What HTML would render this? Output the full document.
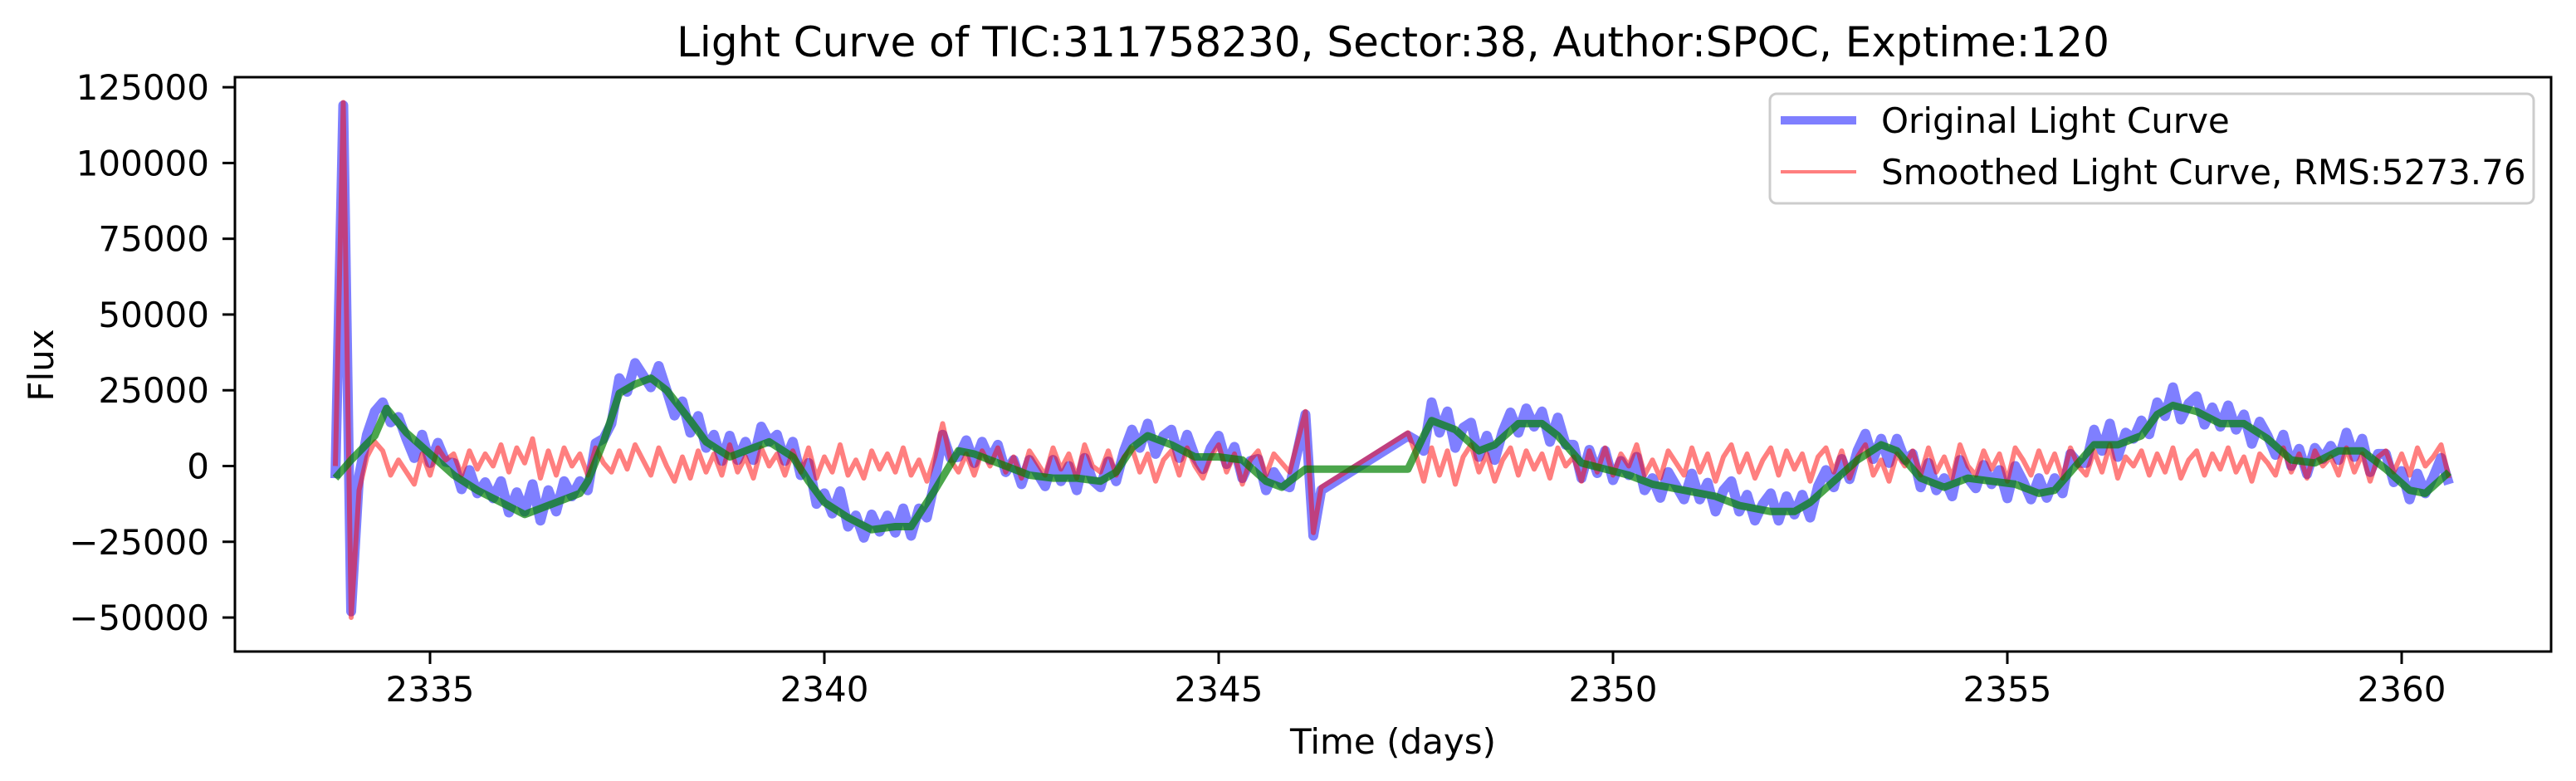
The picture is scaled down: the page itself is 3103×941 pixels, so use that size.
<!DOCTYPE html>
<html><head><meta charset="utf-8"><style>
body{margin:0;background:#fff}
svg{display:block;font-family:"DejaVu Sans","Liberation Sans",sans-serif}
</style></head><body>
<svg id="chart" width="3103" height="941" viewBox="0 0 3103 941" xmlns="http://www.w3.org/2000/svg">
<rect width="3103" height="941" fill="#fff"/>
<text x="1678" y="68" font-size="50" text-anchor="middle">Light Curve of TIC:311758230, Sector:38, Author:SPOC, Exptime:120</text>
<g id="plot"></g>
<g id="axes"></g>
<text x="1678" y="908" font-size="42" text-anchor="middle">Time (days)</text>
<text transform="translate(64,440) rotate(-90)" font-size="42" text-anchor="middle">Flux</text>
<g>
<rect x="2132" y="113" width="920" height="132" rx="8" fill="#fff" fill-opacity="0.8" stroke="#cccccc" stroke-width="3"/>
<line x1="2145" y1="145" x2="2236" y2="145" stroke="rgba(0,0,255,0.5)" stroke-width="10"/>
<text x="2266" y="160" font-size="42">Original Light Curve</text>
<line x1="2145" y1="207" x2="2236" y2="207" stroke="rgba(255,0,0,0.5)" stroke-width="4"/>
<text x="2266" y="222" font-size="42">Smoothed Light Curve, RMS:5273.76</text>
</g>
</svg>
<script>
const xTicks=[2335,2340,2345,2350,2355,2360];
const yTicks=[-50000,-25000,0,25000,50000,75000,100000,125000];
const startTime=2333.8;
const timeStep=0.1;
const residual=[0,120,-50,-8,3,8,5,-3,2,-2,
-6,4,-3,6,2,4,-3,5,-1,4,
0,7,-2,6,1,9,-4,5,-3,6,
0,4,-3,6,1,-2,5,-1,7,2,
-3,6,0,-5,3,-4,5,-2,4,-3,
7,-2,3,-4,6,0,4,-3,5,-2,
6,-4,3,-2,7,-3,2,-4,5,-1,
4,-2,6,-3,2,-5,3,14,2,-2,
4,-3,5,0,6,-2,3,-4,5,1,
-3,6,-1,4,-4,7,0,-2,5,-3,
3,6,-2,4,-5,2,5,-3,6,0,
-4,3,7,-2,4,-6,2,5,-3,4,
1,-2,8,18,-22,-7,null,null,null,null,
null,null,null,null,null,null,11,4,-5,6,
-3,5,-6,3,7,-2,4,-5,2,6,
-3,5,-1,4,-4,6,0,3,-5,5,
-2,6,-3,4,0,7,-3,2,-4,5,
1,-3,6,-2,4,-5,3,7,-2,4,
-4,2,6,-3,5,-1,4,-5,3,6,
-2,5,-4,3,7,-3,2,-5,4,0,
5,-3,6,-2,3,-4,7,0,-3,5,
-1,4,-5,6,2,-3,5,-2,4,-4,
6,0,-3,5,-2,7,-4,3,0,5,
-3,4,-2,6,-4,2,5,-3,4,-1,
6,-2,3,-5,4,1,-3,6,-2,4,
-4,5,0,3,-3,6,-2,4,-5,3,
5,-2,4,-3,6,0,3,7,-4];
const trendT=[2333.8,2334.0,2334.3,2334.45,2334.7,2335.0,2335.3,2335.6,2335.9,2336.2,2336.5,2336.9,2337.0,2337.2,2337.4,2337.6,2337.8,2338.0,2338.3,2338.5,2338.8,2339.0,2339.3,2339.6,2339.8,2340.0,2340.3,2340.6,2340.9,2341.1,2341.4,2341.7,2341.9,2342.3,2342.6,2342.9,2343.2,2343.5,2343.7,2343.9,2344.1,2344.4,2344.7,2345.0,2345.3,2345.6,2345.8,2346.0,2346.1,2346.4,2346.6,2346.8,2347.4,2347.6,2347.7,2348.0,2348.3,2348.5,2348.8,2349.1,2349.3,2349.6,2349.9,2350.2,2350.5,2350.9,2351.3,2351.6,2352.0,2352.3,2352.5,2352.8,2353.1,2353.4,2353.6,2353.9,2354.2,2354.5,2354.8,2355.1,2355.4,2355.6,2355.9,2356.1,2356.4,2356.7,2356.9,2357.1,2357.4,2357.7,2358.0,2358.3,2358.6,2358.9,2359.2,2359.5,2359.8,2360.1,2360.3,2360.6];
const trendV=[-4,2,10,19,11,4,-3,-8,-12,-16,-13,-9,-5,8,24,27,29,25,15,8,3,5,8,3,-5,-12,-17,-21,-20,-20,-8,5,4,0,-3,-4,-4,-5,-2,6,10,7,3,3,2,-5,-7,-3,-1,-1,-1,-1,-1,10,15,12,5,7,14,14,10,1,-1,-3,-6,-8,-10,-13,-15,-15,-12,-5,2,7,5,-4,-7,-4,-5,-6,-9,-8,1,7,7,10,17,20,18,14,14,9,2,1,5,5,-1,-8,-9,-2];

const NS='http://www.w3.org/2000/svg';
const X0=283,X1=3073,Y0=93,Y1=785;
function xs(t){return 518+(t-2335)*95;}
function ys(v){return 561.5-v*3.651;}
function trendAt(t){
  if(t<=trendT[0])return trendV[0];
  for(let i=1;i<trendT.length;i++){if(t<=trendT[i]){const f=(t-trendT[i-1])/(trendT[i]-trendT[i-1]);return trendV[i-1]+f*(trendV[i]-trendV[i-1]);}}
  return trendV[trendV.length-1];
}
const plot=document.getElementById('plot');
const axes=document.getElementById('axes');
function mk(tag,attrs,parent){const e=document.createElementNS(NS,tag);for(const k in attrs)e.setAttribute(k,attrs[k]);parent.appendChild(e);return e;}
let bp=[],rp=[];
residual.forEach((r,i)=>{if(r===null)return;const t=startTime+i*timeStep;
 bp.push(xs(t).toFixed(1)+','+ys(trendAt(t)+r).toFixed(1));
 rp.push(xs(t).toFixed(1)+','+ys(r).toFixed(1));});
const gp=trendT.map((t,i)=>xs(t).toFixed(1)+','+ys(trendV[i]).toFixed(1));
const blue=mk('polyline',{points:bp.join(' '),fill:'none',stroke:'#0000ff','stroke-opacity':0.5,'stroke-width':12,'stroke-linejoin':'round'},plot);


const red=mk('polyline',{points:rp.join(' '),fill:'none',stroke:'#ff0000','stroke-opacity':0.5,'stroke-width':6,'stroke-linejoin':'round'},plot);


const green=mk('polyline',{points:gp.join(' '),fill:'none',stroke:'#008000','stroke-opacity':0.7,'stroke-width':9,'stroke-linejoin':'round'},plot);


const frame=mk('rect',{x:X0,y:Y0,width:X1-X0,height:Y1-Y0,fill:'none',stroke:'#000','stroke-width':3},axes);


xTicks.forEach(t=>{const x=xs(t);
 const l=mk('line',{x1:x,y1:Y1,x2:x,y2:Y1+15,stroke:'#000','stroke-width':3},axes);
 
 
 const tx=mk('text',{x:x,y:845,'font-size':42,'text-anchor':'middle'},axes);tx.textContent=String(t);
 
 
});
yTicks.forEach(v=>{const y=ys(v/1000);
 const l=mk('line',{x1:X0-15,y1:y,x2:X0,y2:y,stroke:'#000','stroke-width':3},axes);
 
 
 const tx=mk('text',{x:252,y:y+15,'font-size':42,'text-anchor':'end'},axes);tx.textContent=(v<0?'\u2212':'')+Math.abs(v);
 
 
});
</script>
</body></html>
